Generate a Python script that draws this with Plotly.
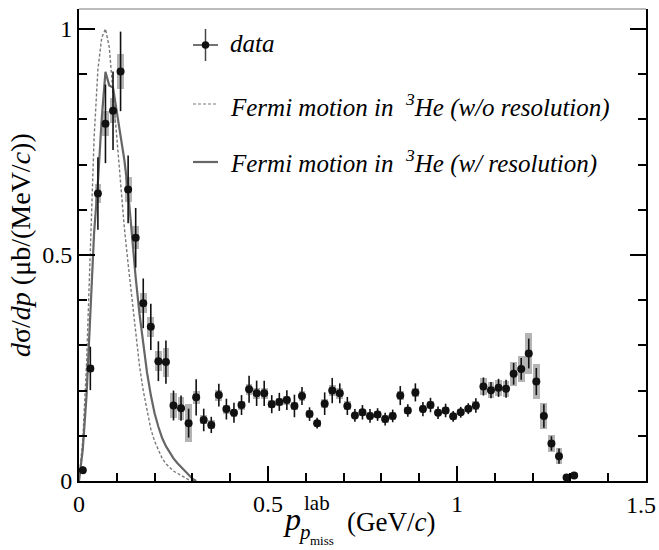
import plotly.graph_objects as go

# ---------------- data ----------------
p_miss = [round(0.01 + 0.02 * i, 2) for i in range(66)]
dsdp = [0.024, 0.249, 0.636, 0.790, 0.819, 0.906, 0.645, 0.538, 0.393, 0.341,
        0.265, 0.263, 0.167, 0.161, 0.128, 0.185, 0.135, 0.124, 0.190, 0.159,
        0.151, 0.168, 0.203, 0.194, 0.194, 0.170, 0.175, 0.179, 0.166, 0.188,
        0.148, 0.128, 0.171, 0.200, 0.194, 0.166, 0.145, 0.152, 0.144, 0.147,
        0.137, 0.144, 0.189, 0.156, 0.196, 0.159, 0.168, 0.151, 0.156, 0.143,
        0.152, 0.160, 0.167, 0.209, 0.201, 0.206, 0.204, 0.237, 0.248, 0.282,
        0.220, 0.144, 0.083, 0.055, 0.008, 0.012]
stat_err = [0.008, 0.048, 0.080, 0.087, 0.087, 0.088, 0.075, 0.066, 0.055, 0.051,
            0.044, 0.048, 0.033, 0.028, 0.032, 0.040, 0.025, 0.018, 0.025, 0.023,
            0.022, 0.022, 0.030, 0.028, 0.028, 0.020, 0.020, 0.022, 0.025, 0.020,
            0.015, 0.012, 0.025, 0.028, 0.022, 0.020, 0.014, 0.016, 0.015, 0.014,
            0.014, 0.014, 0.021, 0.014, 0.020, 0.016, 0.016, 0.014, 0.015, 0.012,
            0.012, 0.012, 0.016, 0.020, 0.018, 0.020, 0.020, 0.024, 0.024, 0.033,
            0.030, 0.026, 0.016, 0.017, 0.004, 0.006]
sys_err = [0.004, 0.008, 0.022, 0.028, 0.028, 0.039, 0.028, 0.025, 0.022, 0.022,
           0.022, 0.032, 0.028, 0.025, 0.042, 0.015, 0.010, 0.010, 0.012, 0.010,
           0.009, 0.010, 0.012, 0.012, 0.012, 0.009, 0.009, 0.010, 0.009, 0.010,
           0.008, 0.008, 0.010, 0.012, 0.012, 0.010, 0.008, 0.008, 0.008, 0.008,
           0.008, 0.008, 0.010, 0.008, 0.010, 0.009, 0.009, 0.008, 0.008, 0.007,
           0.007, 0.007, 0.010, 0.018, 0.018, 0.018, 0.018, 0.027, 0.028, 0.046,
           0.039, 0.028, 0.018, 0.018, 0.004, 0.005]

fermi_x = [0.00, 0.01, 0.02, 0.03, 0.04, 0.05, 0.06, 0.07, 0.08, 0.09, 0.10,
           0.11, 0.12, 0.13, 0.14, 0.15, 0.16, 0.17, 0.18, 0.19, 0.20, 0.21,
           0.22, 0.23, 0.24, 0.25, 0.26, 0.27, 0.28, 0.29, 0.30, 0.31]
fermi_nores = [0.0, 0.09, 0.26, 0.52, 0.76, 0.91, 0.98, 1.0, 0.96, 0.86, 0.76,
               0.66, 0.56, 0.48, 0.40, 0.32, 0.255, 0.20, 0.155, 0.115, 0.088, 0.067,
               0.05, 0.038, 0.029, 0.022, 0.017, 0.012, 0.007, 0.003, 0.001, 0.0]
fermi_res = [0.0, 0.07, 0.19, 0.36, 0.55, 0.66, 0.80, 0.905, 0.875, 0.87, 0.82,
             0.77, 0.71, 0.64, 0.54, 0.45, 0.37, 0.30, 0.24, 0.19, 0.15, 0.12,
             0.095, 0.077, 0.062, 0.05, 0.04, 0.031, 0.022, 0.013, 0.005, 0.0]

x_tickvals = [0, 0.5, 1, 1.5]
x_ticktext = ["0", "0.5", "1", ""]
x_last_label = "1.5"
y_tickvals = [0, 0.5, 1]
y_ticktext = ["0", "0.5", "1"]

legend_labels = ["<i>data</i>",
                 "<i>Fermi motion in  <sup>3</sup>He (w/o resolution)</i>",
                 "<i>Fermi motion in  <sup>3</sup>He (w/ resolution)</i>"]

# ---------------- geometry helpers (pixel -> paper) ----------------
W, H = 659, 550
ML, MR, MT, MB = 79, 13, 9, 69
PW, PH = W - ML - MR, H - MT - MB


def px(xp):
    return (xp - ML) / PW


def py(yp):
    return (H - MB - yp) / PH


FONT = "'Liberation Serif', 'Times New Roman', Times, 'DejaVu Serif', serif"

fig = go.Figure()

# systematic boxes
fig.add_trace(go.Bar(
    x=p_miss,
    y=[2 * s for s in sys_err],
    base=[v - s for v, s in zip(dsdp, sys_err)],
    width=0.018,
    marker=dict(color="#b4b4b4", line=dict(width=0)),
    hoverinfo="skip",
    showlegend=False,
))

# Fermi motion curves
fig.add_trace(go.Scatter(
    x=fermi_x, y=fermi_nores, mode="lines",
    line=dict(color="#7a7a7a", width=1.4, dash="3px,2px"),
    showlegend=False,
))
fig.add_trace(go.Scatter(
    x=fermi_x, y=fermi_res, mode="lines",
    line=dict(color="#666666", width=2.2),
    showlegend=False,
))

# data points with statistical errors
fig.add_trace(go.Scatter(
    x=p_miss, y=dsdp, mode="markers",
    marker=dict(size=8, color="#111111"),
    error_y=dict(type="data", array=stat_err, thickness=1.6, width=0, color="#111111"),
    showlegend=False,
))

axis_common = dict(
    showgrid=False, zeroline=False, showline=True, linecolor="black", linewidth=2,
    ticks="inside", tickcolor="black", tickwidth=1.5,
    tickfont=dict(family=FONT, size=24, color="black"),
    ticklabeloverflow="allow", automargin=False,
)

fig.update_xaxes(
    range=[0, 1.5002], tickvals=x_tickvals, ticktext=x_ticktext, ticklen=15,
    minor=dict(ticks="inside", ticklen=8, tick0=0, dtick=0.1, tickcolor="black",
               tickwidth=1.5, showgrid=False),
    **axis_common,
)
fig.update_yaxes(
    range=[0, 1.044], tickvals=y_tickvals, ticktext=y_ticktext, ticklen=16,
    mirror="ticks",
    minor=dict(ticks="inside", ticklen=8, tick0=0, dtick=0.1, tickcolor="black",
               tickwidth=1.5, showgrid=False),
    **axis_common,
)

shapes = []
annotations = []

# top frame line
shapes.append(dict(type="line", xref="paper", yref="paper", x0=0, x1=1, y0=1, y1=1,
                   line=dict(color="#777777", width=1)))

# legend
leg_x0, leg_x1, leg_xm = 193, 218, 205.5
rows = [45, 104, 162]
shapes.append(dict(type="line", xref="paper", yref="paper",
                   x0=px(leg_x0), x1=px(leg_x1), y0=py(rows[0]), y1=py(rows[0]),
                   line=dict(color="#444444", width=1.5)))
shapes.append(dict(type="line", xref="paper", yref="paper",
                   x0=px(leg_xm), x1=px(leg_xm), y0=py(rows[0] - 16), y1=py(rows[0] + 16),
                   line=dict(color="#444444", width=1.5)))
r = 3.8
shapes.append(dict(type="circle", xref="paper", yref="paper",
                   x0=px(leg_xm - r), x1=px(leg_xm + r), y0=py(rows[0] + r), y1=py(rows[0] - r),
                   fillcolor="#111111", line=dict(color="#111111", width=0)))
shapes.append(dict(type="line", xref="paper", yref="paper",
                   x0=px(leg_x0), x1=px(leg_x1), y0=py(rows[1]), y1=py(rows[1]),
                   line=dict(color="#7a7a7a", width=1.2, dash="3px,2px")))
shapes.append(dict(type="line", xref="paper", yref="paper",
                   x0=px(leg_x0), x1=px(leg_x1), y0=py(rows[2]), y1=py(rows[2]),
                   line=dict(color="#666666", width=2.2)))

text_rows = [43, 105, 161]
for lab, ry in zip(legend_labels, text_rows):
    annotations.append(dict(text=lab, xref="paper", yref="paper", x=px(228), y=py(ry),
                            xanchor="left", yanchor="middle", showarrow=False,
                            font=dict(family=FONT, size=25, color="black")))

# last x tick label, kept inside the page edge
annotations.append(dict(text=x_last_label, xref="paper", yref="paper", x=px(658), y=py(505),
                        xanchor="right", yanchor="middle", showarrow=False,
                        font=dict(family=FONT, size=24, color="black")))

# y-axis title
annotations.append(dict(text="<i>d</i>σ/<i>dp</i> (μb/(MeV/<i>c</i>))",
                        xref="paper", yref="paper", x=px(20), y=py(245),
                        xanchor="center", yanchor="middle", textangle=-90, showarrow=False,
                        font=dict(family=FONT, size=28, color="black")))

# x-axis title (composite)
annotations.append(dict(text="<i>p</i>", xref="paper", yref="paper", x=px(292), y=py(519),
                        xanchor="center", yanchor="middle", showarrow=False,
                        font=dict(family=FONT, size=32, color="black")))
annotations.append(dict(text="lab", xref="paper", yref="paper", x=px(302), y=py(503),
                        xanchor="left", yanchor="middle", showarrow=False,
                        font=dict(family=FONT, size=21, color="black")))
annotations.append(dict(text="<i>p</i>", xref="paper", yref="paper", x=px(296), y=py(532),
                        xanchor="left", yanchor="middle", showarrow=False,
                        font=dict(family=FONT, size=21, color="black")))
annotations.append(dict(text="miss", xref="paper", yref="paper", x=px(308), y=py(540),
                        xanchor="left", yanchor="middle", showarrow=False,
                        font=dict(family=FONT, size=13, color="black")))
annotations.append(dict(text="(GeV/<i>c</i>)", xref="paper", yref="paper", x=px(345), y=py(522),
                        xanchor="left", yanchor="middle", showarrow=False,
                        font=dict(family=FONT, size=27, color="black")))

fig.update_layout(
    width=W, height=H,
    margin=dict(l=ML, r=MR, t=MT, b=MB, autoexpand=False),
    plot_bgcolor="white", paper_bgcolor="white",
    showlegend=False,
    shapes=shapes, annotations=annotations,
    bargap=0,
)

fig.write_html("out.html")
